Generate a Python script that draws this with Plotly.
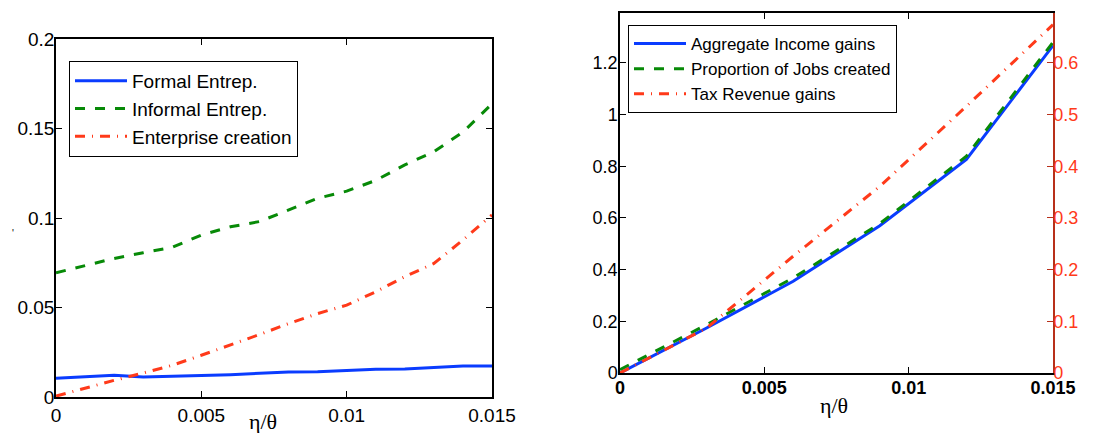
import plotly.graph_objects as go

# ---- data ----
x_left = [0.000, 0.001, 0.002, 0.003, 0.004, 0.005, 0.006, 0.007,
          0.008, 0.009, 0.010, 0.011, 0.012, 0.013, 0.014, 0.015]
formal = [0.0105, 0.0113, 0.0121, 0.0112, 0.0118, 0.0120, 0.0125, 0.0132,
          0.0140, 0.0141, 0.0148, 0.0155, 0.0156, 0.0165, 0.0173, 0.0173]
informal = [0.0694, 0.0735, 0.0774, 0.0806, 0.0836, 0.0905, 0.0951, 0.0980,
            0.1045, 0.1110, 0.1150, 0.1210, 0.1297, 0.1370, 0.1480, 0.1638]
enterprise = [0.0005, 0.0050, 0.0093, 0.0134, 0.0177, 0.0233, 0.0290, 0.0349,
              0.0410, 0.0466, 0.0513, 0.0588, 0.0672, 0.0746, 0.0877, 0.1017]

x_right = [0.000, 0.003, 0.006, 0.009, 0.012, 0.015]
income = [0.000, 0.174, 0.355, 0.570, 0.826, 1.267]
jobs = [0.013, 0.187, 0.368, 0.578, 0.839, 1.280]
tax = [0.000, 0.087, 0.226, 0.361, 0.516, 0.674]

left_names = ["Formal Entrep.", "Informal Entrep.", "Enterprise creation"]
right_names = ["Aggregate Income gains", "Proportion of Jobs created", "Tax Revenue gains"]
x_ticks = [0, 0.005, 0.01, 0.015]
x_ticktext = ["0", "0.005", "0.01", "0.015"]

BLUE = "#0a3cff"
GREEN = "#078a07"
RED = "#ff3a1a"
SANS = "Liberation Sans, Arial, sans-serif"
SERIF = "Liberation Serif, Times New Roman, serif"

fig = go.Figure()

fig.add_trace(go.Scatter(x=x_left, y=formal, name=left_names[0], mode="lines",
                         line=dict(color=BLUE, width=3), xaxis="x", yaxis="y",
                         legend="legend"))
fig.add_trace(go.Scatter(x=x_left, y=informal, name=left_names[1], mode="lines",
                         line=dict(color=GREEN, width=3, dash="10px,10px"),
                         xaxis="x", yaxis="y", legend="legend"))
fig.add_trace(go.Scatter(x=x_left, y=enterprise, name=left_names[2], mode="lines",
                         line=dict(color=RED, width=3, dash="10px,7px,1px,7px"),
                         xaxis="x", yaxis="y", legend="legend"))

fig.add_trace(go.Scatter(x=x_right, y=income, name=right_names[0], mode="lines",
                         line=dict(color=BLUE, width=3), xaxis="x2", yaxis="y2",
                         legend="legend2"))
fig.add_trace(go.Scatter(x=x_right, y=jobs, name=right_names[1], mode="lines",
                         line=dict(color=GREEN, width=3, dash="10px,10px"),
                         xaxis="x2", yaxis="y2", legend="legend2"))
fig.add_trace(go.Scatter(x=x_right, y=tax, name=right_names[2], mode="lines",
                         line=dict(color=RED, width=3, dash="10px,7px,1px,7px"),
                         xaxis="x2", yaxis="y3", legend="legend2"))

W, H = 1117, 433
L1 = (56 / W, 492 / W)
B1 = ((H - 397) / H, (H - 39) / H)
L2 = (620 / W, 1053 / W)
B2 = ((H - 373) / H, (H - 13) / H)

common = dict(showgrid=False, zeroline=False, showline=True, linecolor="black",
              linewidth=1.5, ticks="inside", ticklen=6, tickcolor="black",
              tickwidth=1, automargin=False)

fig.update_layout(
    width=W, height=H,
    margin=dict(l=0, r=0, t=0, b=0),
    paper_bgcolor="white", plot_bgcolor="white",
    font=dict(family=SANS, color="black"),
    xaxis=dict(domain=list(L1), anchor="y", range=[0, 0.015], mirror="ticks",
               tickvals=x_ticks, ticktext=x_ticktext,
               tickfont=dict(size=19), **common),
    yaxis=dict(domain=list(B1), anchor="x", range=[0, 0.2], mirror="ticks",
               tickvals=[0, 0.05, 0.1, 0.15, 0.2],
               ticktext=["0", "0.05", "0.1", "0.15", "0.2"],
               tickfont=dict(size=19), ticklabelstandoff=-4, **common),
    xaxis2=dict(domain=list(L2), anchor="y2", range=[0, 0.015], mirror="ticks",
                tickvals=x_ticks, ticktext=x_ticktext, ticklabelstandoff=-2,
                tickfont=dict(size=18, family="Liberation Sans, Arial", weight="bold"),
                **common),
    yaxis2=dict(domain=list(B2), anchor="x2", range=[0, 1.393],
                tickvals=[0, 0.2, 0.4, 0.6, 0.8, 1.0, 1.2],
                ticktext=["0", "0.2", "0.4", "0.6", "0.8", "1", "1.2"],
                tickfont=dict(size=18), ticklabelstandoff=-3, **common),
    yaxis3=dict(domain=list(B2), anchor="x2", overlaying="y2", side="right",
                range=[0, 0.6965], showgrid=False, zeroline=False,
                showline=True, linecolor="#b8301a", linewidth=1.5,
                ticks="inside", ticklen=6, tickcolor="#b8301a", automargin=False,
                ticklabelstandoff=-5,
                tickvals=[0, 0.1, 0.2, 0.3, 0.4, 0.5, 0.6],
                ticktext=["0", "0.1", "0.2", "0.3", "0.4", "0.5", "0.6"],
                tickfont=dict(size=18, color=RED)),
    legend=dict(x=69 / W, y=(H - 61) / H, xanchor="left", yanchor="top",
                bgcolor="white", bordercolor="black", borderwidth=1,
                itemwidth=52,
                font=dict(size=19, family=SANS), tracegroupgap=0),
    legend2=dict(x=628 / W, y=(H - 25) / H, xanchor="left", yanchor="top",
                 bgcolor="white", bordercolor="black", borderwidth=1,
                 itemwidth=52,
                 font=dict(size=17, family=SANS), tracegroupgap=0),
    annotations=[
        dict(text="η/θ", x=263 / W, y=(H - 421) / H, xref="paper", yref="paper",
             showarrow=False, font=dict(family=SERIF, size=22, color="black"),
             xanchor="center", yanchor="middle"),
        dict(text="η/θ", x=834 / W, y=(H - 405) / H, xref="paper", yref="paper",
             showarrow=False, font=dict(family=SERIF, size=22, color="black"),
             xanchor="center", yanchor="middle"),
        dict(text="'", x=13 / W, y=(H - 233) / H, xref="paper", yref="paper",
             showarrow=False, font=dict(family=SANS, size=10, color="black"),
             xanchor="center", yanchor="middle"),
    ],
)

fig.write_html("out.html",
               config={"displayModeBar": False},
               post_script="document.body.style.margin='0';"
                           "document.body.style.padding='0';"
                           "document.body.style.overflow='hidden';")
